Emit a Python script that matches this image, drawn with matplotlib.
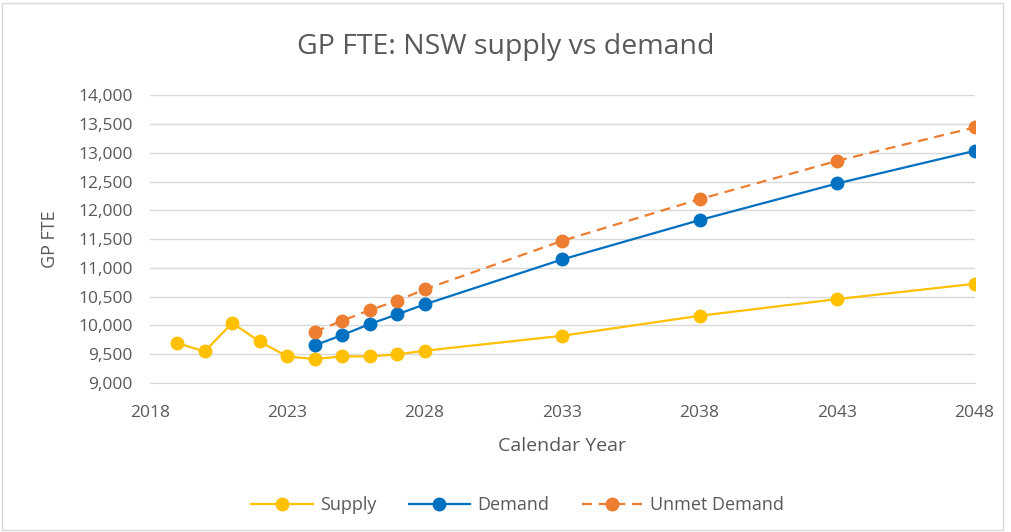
import matplotlib.pyplot as plt
from matplotlib.patches import Rectangle

plt.rcParams['font.family'] = ['Open Sans', 'DejaVu Sans']

supply_years = [2019, 2020, 2021, 2022, 2023, 2024, 2025, 2026, 2027, 2028, 2033, 2038, 2043, 2048]
supply = [9694, 9549, 10042, 9722, 9463, 9417, 9463, 9463, 9498, 9561, 9821, 10168, 10458, 10724]

demand_years = [2024, 2025, 2026, 2027, 2028, 2033, 2038, 2043, 2048]
demand = [9654, 9833, 10024, 10192, 10366, 11147, 11830, 12467, 13033]
unmet = [9891, 10082, 10267, 10429, 10627, 11470, 12194, 12860, 13440]

x_ticks = [2018, 2023, 2028, 2033, 2038, 2043, 2048]
y_ticks = list(range(9000, 14001, 500))

text_col = '#595959'

fig = plt.figure(figsize=(10.11, 5.32), dpi=100)
ax = fig.add_axes([0.148, 0.280, 0.816, 0.541])

ax.plot(supply_years, supply, color='#FFC000', lw=1.6, marker='o', ms=9, label='Supply')
ax.plot(demand_years, demand, color='#0070C0', lw=1.6, marker='o', ms=9, label='Demand')
ax.plot(demand_years, unmet, color='#ED7D31', lw=1.6, ls=(0, (4.5, 3)), marker='o', ms=9,
        label='Unmet Demand')

ax.set_xlim(2018, 2048)
ax.set_ylim(9000, 14000)
ax.set_xticks(x_ticks)
ax.set_yticks(y_ticks)
ax.set_yticklabels([f'{v:,}' for v in y_ticks])
ax.tick_params(axis='both', length=0, labelsize=12.5, labelcolor=text_col)
ax.tick_params(axis='x', pad=16)
ax.tick_params(axis='y', pad=12)
ax.grid(axis='y', color='#D9D9D9', lw=1)
ax.set_axisbelow(True)
for s in ['top', 'right', 'left']:
    ax.spines[s].set_visible(False)
ax.spines['bottom'].set_color('#D9D9D9')

ax.set_xlabel('Calendar Year', fontsize=14, color=text_col, labelpad=11)
ax.set_ylabel('GP FTE', fontsize=13, color=text_col, labelpad=14)
fig.text(0.5, 0.912, 'GP FTE: NSW supply vs demand', ha='center', va='center',
         fontsize=20.5, color=text_col)

ax.legend(loc='center', bbox_to_anchor=(0.512, 0.051), bbox_transform=fig.transFigure,
          ncol=3, frameon=False, fontsize=13, labelcolor=text_col,
          handlelength=3.4, columnspacing=1.8, handletextpad=0.4)

fig.patches.append(Rectangle((0.002, 0.004), 0.99, 0.99, transform=fig.transFigure,
                             fill=False, edgecolor='#D9D9D9', lw=1))

fig.savefig('out.png', dpi=100)
